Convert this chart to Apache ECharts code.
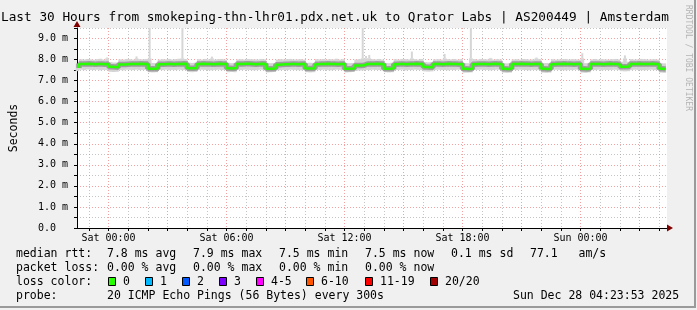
<!DOCTYPE html>
<html><head><meta charset="utf-8">
<script src="https://cdn.jsdelivr.net/npm/echarts@6/dist/echarts.min.js"></script>
<style>html,body{margin:0;padding:0;background:#f0f0f0}#c{width:697px;height:310px}</style>
</head><body><div id="c"></div>
<script>
// ---- data ----
const startTime = new Date(2025, 11, 26, 22, 23, 53).getTime();
const endTime = new Date(2025, 11, 28, 4, 23, 53).getTime();
const firstSample = new Date(2025, 11, 26, 22, 30, 0).getTime();
const stepMs = 10 * 60 * 1000;

const median = [
 7.60,7.79,7.79,7.80,7.79,7.78,7.79,7.79,7.78,7.79,7.66,7.65,
 7.64,7.77,7.77,7.78,7.79,7.79,7.79,7.80,7.79,7.79,7.57,7.56,
 7.56,7.78,7.78,7.79,7.79,7.78,7.79,7.79,7.80,7.79,7.59,7.59,
 7.60,7.79,7.80,7.79,7.79,7.78,7.79,7.80,7.79,7.79,7.59,7.58,
 7.60,7.79,7.79,7.80,7.80,7.79,7.78,7.79,7.80,7.79,7.57,7.57,
 7.58,7.76,7.77,7.78,7.78,7.79,7.79,7.78,7.79,7.79,7.58,7.58,
 7.59,7.78,7.79,7.79,7.80,7.79,7.79,7.78,7.79,7.79,7.57,7.57,
 7.58,7.72,7.72,7.73,7.79,7.79,7.79,7.80,7.79,7.79,7.57,7.57,
 7.58,7.78,7.79,7.79,7.78,7.79,7.79,7.80,7.79,7.79,7.65,7.64,
 7.64,7.79,7.79,7.78,7.79,7.80,7.79,7.79,7.78,7.79,7.56,7.55,
 7.56,7.78,7.79,7.79,7.79,7.78,7.79,7.80,7.79,7.79,7.56,7.55,
 7.56,7.79,7.79,7.80,7.79,7.79,7.78,7.79,7.79,7.79,7.56,7.55,
 7.56,7.78,7.79,7.79,7.80,7.79,7.79,7.78,7.79,7.79,7.56,7.55,
 7.57,7.79,7.79,7.79,7.78,7.79,7.80,7.79,7.79,7.78,7.66,7.66,
 7.67,7.79,7.79,7.80,7.79,7.79,7.79,7.80,7.79,7.78,7.56,7.55
];
const smokeHi = [
 7.82,8.02,8.00,8.03,8.01,7.99,8.02,8.04,8.00,8.10,7.88,7.86,
 7.86,8.01,8.00,8.03,8.02,8.00,8.15,8.02,8.01,8.03,9.50,7.84,
 7.83,8.00,8.02,8.01,8.03,8.00,8.02,8.04,9.50,8.02,7.85,7.84,
 7.85,8.02,8.00,8.03,8.01,8.14,8.00,8.02,8.03,8.00,7.85,7.83,
 7.84,8.01,8.02,8.00,8.03,8.02,8.01,8.00,8.03,8.01,7.84,7.83,
 7.84,8.00,8.02,8.01,8.02,8.03,8.00,8.01,8.02,8.00,7.84,7.85,
 7.84,8.02,8.01,8.03,8.00,8.02,8.01,8.04,8.00,8.02,7.84,7.83,
 7.84,8.00,8.02,9.50,8.17,8.22,8.02,8.01,8.03,8.00,7.84,7.83,
 7.85,8.02,8.00,8.03,8.02,8.01,8.38,8.02,8.00,8.03,7.88,7.87,
 7.88,8.01,8.02,8.00,8.27,8.02,8.01,8.03,8.00,8.02,7.84,7.83,
 9.50,8.02,8.00,8.03,8.02,8.01,8.08,8.00,8.02,8.01,7.83,7.82,
 7.84,8.01,8.02,8.00,8.03,8.02,8.00,8.01,8.10,8.02,7.83,7.84,
 7.83,8.02,8.00,8.01,8.02,8.03,8.00,8.02,8.01,8.00,8.30,7.83,
 7.84,8.01,8.03,8.00,8.02,8.01,8.00,8.02,8.03,8.01,7.90,8.20,
 7.90,8.02,8.00,8.01,8.03,8.02,8.00,8.01,8.02,8.00,7.83,7.82
];
const smokeLo = [
 7.45,7.52,7.50,7.53,7.51,7.50,7.52,7.49,7.51,7.50,7.42,7.41,
 7.42,7.50,7.49,7.52,7.51,7.50,7.52,7.50,7.51,7.53,7.40,7.39,
 7.40,7.51,7.50,7.52,7.49,7.51,7.50,7.52,7.50,7.51,7.41,7.40,
 7.41,7.50,7.52,7.51,7.50,7.49,7.51,7.52,7.50,7.51,7.40,7.41,
 7.40,7.51,7.50,7.52,7.51,7.50,7.49,7.51,7.52,7.50,7.39,7.40,
 7.41,7.49,7.50,7.51,7.50,7.52,7.51,7.50,7.49,7.51,7.40,7.39,
 7.40,7.51,7.50,7.52,7.51,7.49,7.50,7.52,7.51,7.50,7.39,7.40,
 7.41,7.47,7.48,7.49,7.51,7.50,7.52,7.51,7.50,7.49,7.40,7.39,
 7.40,7.51,7.50,7.52,7.49,7.51,7.50,7.52,7.51,7.50,7.44,7.43,
 7.44,7.50,7.52,7.51,7.50,7.49,7.51,7.50,7.52,7.51,7.38,7.38,
 7.39,7.50,7.51,7.52,7.50,7.51,7.49,7.50,7.52,7.51,7.38,7.37,
 7.38,7.51,7.50,7.52,7.51,7.50,7.49,7.51,7.50,7.52,7.38,7.37,
 7.38,7.50,7.52,7.51,7.50,7.49,7.51,7.50,7.52,7.51,7.38,7.37,
 7.39,7.51,7.50,7.52,7.49,7.51,7.50,7.51,7.52,7.50,7.45,7.44,
 7.45,7.50,7.52,7.51,7.50,7.49,7.51,7.52,7.50,7.51,7.38,7.37
];

const xLabels = ['Sat 00:00', 'Sat 06:00', 'Sat 12:00', 'Sat 18:00', 'Sun 00:00'];
const xLabelTimes = [
  new Date(2025, 11, 27, 0, 0).getTime(), new Date(2025, 11, 27, 6, 0).getTime(),
  new Date(2025, 11, 27, 12, 0).getTime(), new Date(2025, 11, 27, 18, 0).getTime(),
  new Date(2025, 11, 28, 0, 0).getTime()
];
const hourTicks = [];
for (let h = 0; h < 30; h++) hourTicks.push(new Date(2025, 11, 26, 23 + h, 0).getTime());
const yLabels = ['0.0  ', '1.0 m', '2.0 m', '3.0 m', '4.0 m', '5.0 m', '6.0 m', '7.0 m', '8.0 m', '9.0 m'];

const legendRtt = ['median rtt:', '7.8 ms avg', '7.9 ms max', '7.5 ms min', '7.5 ms now', '0.1 ms sd', '77.1   am/s'];
const legendLoss = ['packet loss:', '0.00 % avg', '0.00 % max', '0.00 % min', '0.00 % now'];
const lossLabels = ['0', '1', '2', '3', '4-5', '6-10', '11-19', '20/20'];
const lossColors = ['#26ff00', '#00b8ff', '#0059ff', '#7e00ff', '#ff00ff', '#ff5500', '#ff0000', '#a10000'];

// ---- build ----
const times = median.map((_, i) => firstSample + i * stepMs);
const medianData = median.map((v, i) => [times[i], v]);
const smokeData = median.map((_, i) => [times[i], smokeLo[i], smokeHi[i]]);

const MONO = 'DejaVu Sans Mono';
const chart = echarts.init(document.getElementById('c'), null, {renderer: 'canvas'});

const graphics = [];
graphics.push({type: 'rect', shape: {x: 694, y: 0, width: 2, height: 308}, style: {fill: '#9a9a9a'}, silent: true});
graphics.push({type: 'rect', shape: {x: 0, y: 306, width: 696, height: 2}, style: {fill: '#9a9a9a'}, silent: true});
graphics.push({type: 'text', x: 1, y: 18, style: {text: 'Last 30 Hours from smokeping-thn-lhr01.pdx.net.uk to Qrator Labs | AS200449 | Amsterdam',
  font: '12.75px "' + MONO + '"', fill: '#000', align: 'left', verticalAlign: 'middle'}});
graphics.push({type: 'text', x: 688.5, y: 5, rotation: -Math.PI / 2, style: {text: 'RRDTOOL / TOBI OETIKER',
  font: '8px "' + MONO + '"', fill: '#b4b4b4', align: 'left', verticalAlign: 'middle'}});
const colX = [16, 107, 193, 279, 365, 451, 530];
legendRtt.forEach((t, i) => graphics.push({type: 'text', x: colX[i], y: 254.5,
  style: {text: t, font: '11.5px "' + MONO + '"', fill: '#000', verticalAlign: 'middle'}}));
legendLoss.forEach((t, i) => graphics.push({type: 'text', x: colX[i], y: 268.5,
  style: {text: t, font: '11.5px "' + MONO + '"', fill: '#000', verticalAlign: 'middle'}}));
graphics.push({type: 'text', x: 16, y: 282.5, style: {text: 'loss color:', font: '11.5px "' + MONO + '"', fill: '#000', verticalAlign: 'middle'}});
const boxX = [108.5, 145.5, 182.5, 219.5, 256.5, 306.5, 365.5, 430.5];
lossLabels.forEach((t, i) => {
  graphics.push({type: 'rect', shape: {x: boxX[i], y: 277.5, width: 7, height: 8}, style: {fill: lossColors[i], stroke: '#000', lineWidth: 1}});
  graphics.push({type: 'text', x: boxX[i] + 14.5, y: 282.5, style: {text: t, font: '11.5px "' + MONO + '"', fill: '#000', verticalAlign: 'middle'}});
});
graphics.push({type: 'text', x: 16, y: 296.5, style: {text: 'probe:', font: '11.5px "' + MONO + '"', fill: '#000', verticalAlign: 'middle'}});
graphics.push({type: 'text', x: 107, y: 296.5, style: {text: '20 ICMP Echo Pings (56 Bytes) every 300s', font: '11.5px "' + MONO + '"', fill: '#000', verticalAlign: 'middle'}});
graphics.push({type: 'text', x: 513, y: 296.5, style: {text: 'Sun Dec 28 04:23:53 2025', font: '11.5px "' + MONO + '"', fill: '#000', verticalAlign: 'middle'}});

const RED = 'rgba(240,130,130,0.75)';
const GRAY = 'rgba(150,150,150,0.55)';

chart.setOption({
  animation: false,
  backgroundColor: '#f0f0f0',
  textStyle: {fontFamily: MONO},
  grid: {left: 67, right: 30, top: 28, bottom: 82, show: true, backgroundColor: '#ffffff', borderWidth: 0},
  xAxis: {
    type: 'value', min: startTime, max: endTime, scale: true,
    axisLine: {show: true, lineStyle: {color: '#000', width: 1}},
    axisTick: {show: true, length: 3, customValues: hourTicks, lineStyle: {color: '#000'}},
    axisLabel: {show: true, customValues: xLabelTimes, margin: 5, color: '#000', fontFamily: MONO, fontSize: 10,
      formatter: (v) => { const k = xLabelTimes.indexOf(v); return k >= 0 ? xLabels[k] : ''; }},
    splitLine: {show: true, lineStyle: {color: [GRAY, RED, GRAY], type: [1, 2], width: 1}}
  },
  yAxis: {
    type: 'value', min: 0, max: 9.5, interval: 0.5,
    name: 'Seconds', nameLocation: 'middle', nameGap: 57, nameRotate: 90,
    nameTextStyle: {fontFamily: MONO, fontSize: 11.5, color: '#000'},
    axisLine: {show: true, lineStyle: {color: '#000', width: 1}},
    axisTick: {show: true, length: 3, lineStyle: {color: '#000'}},
    axisLabel: {margin: 9, color: '#000', fontFamily: MONO, fontSize: 10,
      formatter: (v) => { const r = Math.round(v * 2); return r % 2 === 0 ? yLabels[r / 2] : ''; }},
    splitLine: {show: true, lineStyle: {color: [RED, GRAY], type: [1, 2], width: 1}}
  },
  graphic: graphics,
  series: [
    {
      type: 'custom', z: 1, silent: true,
      data: smokeData, encode: {x: 0, y: [1, 2]},
      renderItem: (params, api) => {
        const t = api.value(0), lo = api.value(1), hi = api.value(2);
        const cap = Math.min(hi, 8.06);
        const a = api.coord([t - stepMs, cap]);
        const b = api.coord([t, lo]);
        const children = [{type: 'rect', shape: {x: a[0], y: a[1], width: b[0] - a[0] + 0.4, height: b[1] - a[1]}, style: {fill: '#d4d4d4'}}];
        if (hi > cap) {
          const s = api.coord([t - stepMs, hi]);
          children.push({type: 'rect', shape: {x: s[0] + 0.8, y: s[1], width: 2, height: a[1] - s[1]}, style: {fill: '#d6d6d6'}});
        }
        return {type: 'group', children};
      }
    },
    {
      type: 'line', z: 3, step: 'start', data: medianData, symbol: 'none', silent: true,
      lineStyle: {color: 'rgba(30,30,30,0.3)', width: 5.5}
    },
    {
      type: 'line', z: 4, step: 'start', data: medianData, symbol: 'none', silent: true,
      lineStyle: {color: '#26ff00', width: 2.5},
      markPoint: {
        silent: true, label: {show: false},
        data: [
          {coord: [endTime, 0], symbol: 'triangle', symbolRotate: -90, symbolSize: [7, 6], symbolOffset: [3, 0], itemStyle: {color: '#800000'}},
          {coord: [startTime, 9.5], symbol: 'triangle', symbolSize: [7, 6], symbolOffset: [0, -4], itemStyle: {color: '#800000'}}
        ]
      }
    }
  ]
});
</script></body></html>
